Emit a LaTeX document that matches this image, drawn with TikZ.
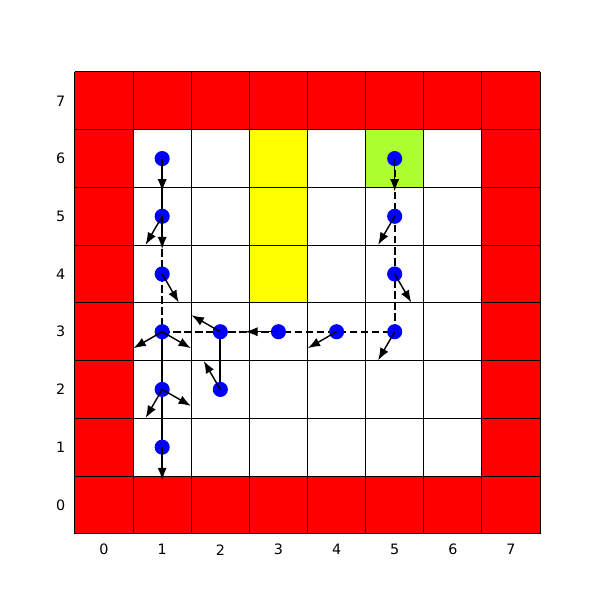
\documentclass[tikz,border=0pt]{standalone}
\usepackage{fontspec}
\setsansfont{DejaVu Sans}
\usetikzlibrary{arrows.meta}
\definecolor{wallred}{HTML}{FF0000}
\definecolor{puddle}{HTML}{FFFF00}
\definecolor{goalgreen}{HTML}{ADFF2F}
\definecolor{agentblue}{HTML}{0000FF}
\tikzset{
  wallcell/.style={fill=wallred},
  puddlecell/.style={fill=puddle},
  goalcell/.style={fill=goalgreen},
  gridline/.style={line width=0.5pt,black},
  statenode/.style={circle,fill=agentblue,inner sep=0pt,minimum size=0.26cm},
  actarrow/.style={-{Latex[length=6pt,width=4.5pt]},line width=0.7pt,black},
  pathsolid/.style={line width=1pt,black},
  pathdash/.style={line width=1pt,black,dash pattern=on 3.7pt off 1.7pt},
  ticklabel/.style={font=\sffamily\fontsize{7}{8}\selectfont}
}

\begin{document}
\begin{tikzpicture}[x=1cm,y=0.993cm]
  \useasboundingbox (-1.79,-1.643) rectangle (8.532,8.747);

  \foreach \i in {0,...,7} {
    \fill[wallcell] (\i-0.5,-0.5) rectangle ++(1,1);
    \fill[wallcell] (\i-0.5,6.5) rectangle ++(1,1);
    \fill[wallcell] (-0.5,\i-0.5) rectangle ++(1,1);
    \fill[wallcell] (6.5,\i-0.5) rectangle ++(1,1);
    \node[ticklabel] (xl\i) at (\i,-0.777) {\i};
    \node[ticklabel] (yl\i) at (-0.746,\i) {\i};
  }
  \foreach \j in {4,5,6}
    \fill[puddlecell] (2.5,\j-0.5) rectangle ++(1,1);
  \fill[goalcell] (4.5,5.5) rectangle ++(1,1);
  \foreach \k in {0,...,8} {
    \draw[gridline] (\k-0.5,-0.5) -- (\k-0.5,7.5);
    \draw[gridline] (-0.5,\k-0.5) -- (7.5,\k-0.5);
  }

  \foreach \x/\y in {1/6,1/5,1/4,1/3,1/2,1/1,2/3,2/2,3/3,4/3,5/3,5/4,5/5,5/6}
    \coordinate (c\x\y) at (\x,\y);

  \draw[pathsolid] (c16) -- (c15);
  \draw[pathdash] (c15) -- (c14);
  \draw[pathdash] (c14) -- (c13);
  \draw[pathsolid] (c13) -- (c12);
  \draw[pathsolid] (c12) -- (c11);
  \draw[pathsolid] (c23) -- (c22);
  \draw[pathdash] (c13) -- (c23) -- (c33) -- (c43) -- (c53);
  \draw[pathdash] (c53) -- (c54) -- (c55) -- (c56);

  \foreach \p in {16,15,14,13,12,11,23,22,33,43,53,54,55,56}
    \node[statenode] (s\p) at (c\p) {};

  \foreach \p/\a in {16/270,15/270,15/240,14/300,13/210,13/330,23/150,33/180,
                     22/120,12/240,12/330,11/270,43/210,53/240,54/300,55/240,56/270}
    \draw[actarrow] (s\p.center) -- ++(\a:0.57);
\end{tikzpicture}
\end{document}
